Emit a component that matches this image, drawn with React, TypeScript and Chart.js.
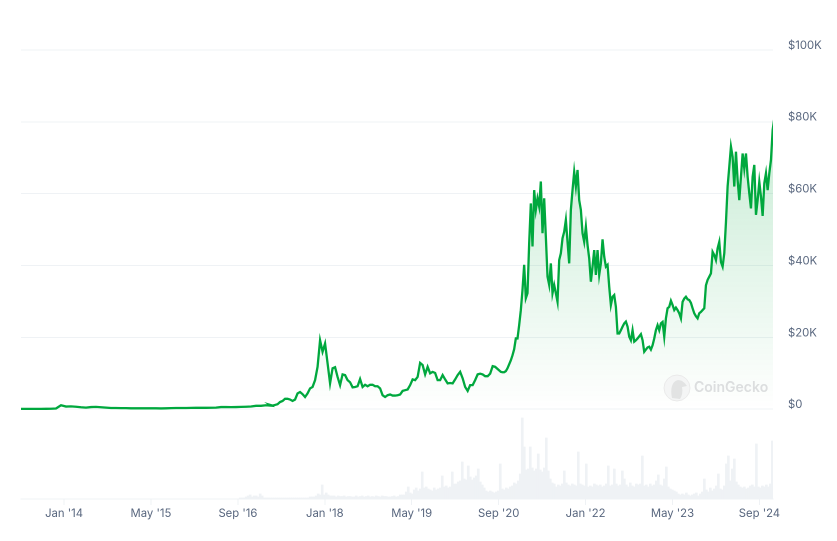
import React, { useEffect, useRef } from "react";
import { Chart, registerables } from "chart.js";

Chart.register(...registerables);

// Dates are decimal years; prices in $K; volumes in $B.
const axisStart = 2013.34;
const axisEnd = 2024.875;
const tickYears = [2014, 2015.333, 2016.667, 2018, 2019.333, 2020.667, 2022, 2023.333, 2024.667];
const tickLabels = ["Jan '14", "May '15", "Sep '16", "Jan '18", "May '19", "Sep '20", "Jan '22", "May '23", "Sep '24"];
const priceTicks = [0, 20, 40, 60, 80, 100];

// 2013 – 2017: sampled every 28 days or so
const earlyStep = 0.0767;
const earlyPrices = [
  0.1, 0.1, 0.1, 0.1, 0.1, 0.12, 0.13, 0.2, 1.1, 0.75, 0.8, 0.7, 0.55, 0.45, 0.6, 0.65, 0.55, 0.45, 0.35, 0.35,
  0.3, 0.3, 0.25, 0.25, 0.25, 0.25, 0.28, 0.25, 0.22, 0.25, 0.3, 0.35, 0.35, 0.35, 0.38, 0.42, 0.4, 0.4, 0.42, 0.45,
  0.6, 0.6, 0.58, 0.6, 0.65, 0.7, 0.75, 0.95, 0.95, 1.1, 1.0,
];

// 2017 – 2020: sampled every 14 days or so
const midStart = 2017.16;
const midStep = 0.03837;
const midPrices = [
  1.2, 1.0, 1.2, 1.4, 2.0, 2.3, 2.9, 2.9, 2.7, 2.3, 2.7, 4.4, 4.8, 4.2, 3.4, 4.4, 5.8, 6.2, 8.1, 11.8,
  19.2, 16, 18.3, 12.8, 7.2, 11.4, 11.7, 9, 6.7, 9.7, 9.5, 8.1, 7.5, 6.1, 6.2, 6.4, 8.4, 6.2, 6.8, 6.4,
  6.8, 6.8, 6.4, 6.4, 5.8, 3.9, 3.4, 3.9, 4.1, 3.8, 3.8, 3.9, 4.1, 5.1, 5.3, 5.5, 6.7, 8.3, 8.1, 9,
  12.9, 12.3, 9.7, 11.8, 10, 10.4, 10.1, 8.1, 8.1, 9.5, 8.3, 7.2, 7.3, 7.2, 8.3, 9.5, 10.4, 8.6, 6.2, 5.1,
  6.7, 6.7, 8.1, 9.7, 9.9, 9.7, 9.2, 9.2, 9.9, 12, 11.8,
];

// 2020 – 2024: sampled every 9 days or so
const lateStart = 2020.7;
const lateStep = 0.02558;
const latePrices = [
  10.4, 10.3, 10.3, 10.6, 11.4, 12.5, 13.6, 15, 16.7, 19.7, 19.7, 23.4, 27.6, 33.2, 40.2, 30.9, 32.3, 46.2, 57.3, 45.3,
  61, 55.5, 58.7, 56.4, 63.4, 49, 58.7, 48, 36.9, 34.6, 40.6, 32.3, 34.6, 32.3, 29.9, 41.5, 43.4, 47.6, 49.4, 52.7,
  46.6, 40.6, 55.5, 61, 66.1, 62, 66.6, 58.2, 55.5, 49, 46.6, 50.8, 45.7, 42, 35.5, 39.7, 44.3, 37.4, 44.3, 37.4,
  40.6, 47.3, 42.5, 39.7, 40.2, 34.1, 29, 31.3, 31.8, 28.5, 21.1, 21.1, 22, 23, 23.9, 24.4, 23, 20.2, 19.2, 22,
  18.8, 19.2, 19.7, 20.3, 20.9, 19.2, 16, 16.6, 17.2, 17.4, 16.6, 17.8, 19.7, 22, 23.4, 22, 23.9, 24.3, 20.2, 25.3,
  28.1, 28.5, 30.2, 29, 27.6, 28.3, 27.6, 26.7, 25.3, 29.9, 30.8, 31.3, 30.6, 30.4, 29.6, 28.1, 26.7, 25.9, 25.3, 26.7,
  27.1, 27.6, 28.1, 34.5, 36, 36.9, 37.8, 43.8, 42.9, 41.5, 44.8, 46.6, 41, 39.7, 43.4, 52, 62, 67.5, 73.1, 70.3,
  62, 71.7, 63.8, 58.2, 64.7, 71.2, 67, 71.2, 64.7, 60.1, 55.9, 64.7, 68, 54.1, 58.2, 63.3, 59.2, 53.8, 62.9, 65.7,
  61, 65.7, 69.4, 77.7, 81,
];

// Daily-ish volume from late 2016, sampled every 11 days or so
const volumeStart = 2016.702;
const volumeStep = 0.03069;
const volumes = [
  2, 2, 2, 4, 6, 8, 4, 6, 6, 4, 10, 6, 2, 2, 2, 2, 2, 2, 2, 2,
  2, 2, 2, 2, 2, 2, 2, 2, 2, 2, 2, 2, 2, 2, 2, 4, 4, 4, 6, 10,
  8, 28, 8, 12, 8, 6, 6, 6, 4, 6, 5, 5, 6, 4, 5, 5, 4, 4, 6, 4,
  5, 6, 4, 5, 6, 4, 5, 4, 6, 5, 4, 6, 5, 5, 4, 4, 5, 6, 4, 5,
  8, 8, 8, 14, 24, 12, 10, 18, 22, 16, 20, 54, 22, 24, 20, 18, 16, 22, 18, 20,
  22, 46, 24, 26, 22, 24, 54, 30, 30, 34, 36, 74, 40, 38, 66, 44, 38, 42, 46, 60,
  34, 28, 22, 16, 14, 16, 14, 12, 14, 16, 70, 20, 18, 22, 20, 24, 26, 32, 30, 36,
  50, 162, 104, 58, 60, 104, 62, 56, 60, 90, 58, 54, 62, 122, 56, 40, 32, 30, 24, 28,
  26, 30, 56, 32, 28, 26, 30, 28, 26, 94, 30, 28, 26, 70, 24, 26, 24, 30, 28, 26,
  28, 24, 26, 30, 66, 26, 28, 60, 30, 26, 28, 56, 40, 28, 24, 32, 26, 24, 30, 28,
  30, 86, 26, 28, 24, 30, 26, 28, 36, 48, 28, 26, 40, 64, 24, 20, 18, 16, 14, 10,
  8, 10, 8, 12, 8, 6, 8, 10, 12, 6, 10, 14, 40, 18, 14, 22, 16, 20, 26, 50,
  20, 18, 26, 70, 86, 36, 60, 80, 34, 28, 24, 22, 24, 20, 22, 26, 28, 24, 110, 24,
  22, 26, 24, 28, 24, 30, 116,
];

const COLOR_LINE = "#00a83e";
const COLOR_GRID = "#eff2f5";
const COLOR_TEXT = "#58667e";
const FONT = "Inter";

function seriesPoints(start: number, step: number, values: number[]) {
  return values.map((y, i) => ({ x: start + i * step, y }));
}

export default function App() {
  const ref = useRef<HTMLCanvasElement>(null);

  useEffect(() => {
    if (!ref.current) return;
    const price = [
      ...seriesPoints(axisStart, earlyStep, earlyPrices),
      ...seriesPoints(midStart, midStep, midPrices),
      ...seriesPoints(lateStart, lateStep, latePrices),
    ];
    const chart = new Chart(ref.current, {
      data: {
        datasets: [
          {
            type: "line",
            data: price,
            yAxisID: "y",
            borderColor: COLOR_LINE,
            borderWidth: 2.3,
            pointRadius: 0,
            tension: 0,
            fill: { value: 0 },
            order: 1,
            backgroundColor: (c: any) => {
              const { ctx, chartArea, scales } = c.chart;
              if (!chartArea) return "transparent";
              const g = ctx.createLinearGradient(0, scales.y.getPixelForValue(81), 0, scales.y.getPixelForValue(0));
              g.addColorStop(0, "rgba(0,168,62,0.22)");
              g.addColorStop(1, "rgba(0,168,62,0)");
              return g;
            },
          },
          {
            type: "bar",
            data: seriesPoints(volumeStart, volumeStep, volumes),
            yAxisID: "yv",
            backgroundColor: COLOR_GRID,
            barThickness: 2,
            borderWidth: 0,
            order: 2,
          },
        ],
      } as any,
      options: {
        responsive: false,
        animation: false,
        devicePixelRatio: 2,
        layout: { padding: { left: 21, top: 50, right: 0, bottom: 0 } },
        plugins: { legend: { display: false }, tooltip: { enabled: false } },
        scales: {
          x: {
            type: "linear",
            offset: false,
            min: axisStart,
            max: axisEnd,
            afterFit: (s: any) => { s.height = 42; },
            afterBuildTicks: (s: any) => { s.ticks = tickYears.map((value) => ({ value })); },
            grid: { offset: false, drawOnChartArea: false, color: COLOR_GRID, tickLength: 6 },
            border: { color: COLOR_GRID },
            ticks: {
              autoSkip: false,
              maxRotation: 0,
              padding: 2,
              color: COLOR_TEXT,
              font: { family: FONT, size: 11.3 },
              callback: (v: any) => tickLabels[tickYears.indexOf(v)],
            },
          },
          y: {
            position: "right",
            min: -24.99,
            max: 100,
            afterFit: (s: any) => { s.width = 64; },
            afterBuildTicks: (s: any) => { s.ticks = priceTicks.map((value) => ({ value })); },
            grid: { color: COLOR_GRID, drawTicks: false },
            border: { display: false },
            ticks: {
              autoSkip: false,
              padding: 15,
              labelOffset: -4.5,
              color: COLOR_TEXT,
              font: { family: FONT, size: 11.3 },
              callback: (v: any) => (v === 0 ? "$0" : `$${v}K`),
            },
          },
          yv: { display: false, min: 0, max: 898 },
        },
      },
    } as any);
    return () => chart.destroy();
  }, []);

  return (
    <div style={{ position: "absolute", left: 0, top: 0, width: 837, height: 541, background: "#fff", overflow: "hidden" }}>
      <canvas ref={ref} width={837} height={541} style={{ display: "block", width: 837, height: 541 }} />
      <svg width="28" height="28" viewBox="0 0 28 28" style={{ position: "absolute", left: 663, top: 374 }}>
        <circle cx="14" cy="14" r="13" fill="#f4f5f5" stroke="#eaeaea" strokeWidth="1" />
        <path d="M9 24 C7 15 9 7 15 6 C19 6 22 9 24 12 L19 13 C20 18 19 22 17 25 Z" fill="#e2e3e3" />
      </svg>
      <div style={{ position: "absolute", left: 694, top: 378, fontFamily: "Inter", fontWeight: 600, fontSize: 14, lineHeight: "18px", color: "#dcdedf" }}>
        CoinGecko
      </div>
    </div>
  );
}
